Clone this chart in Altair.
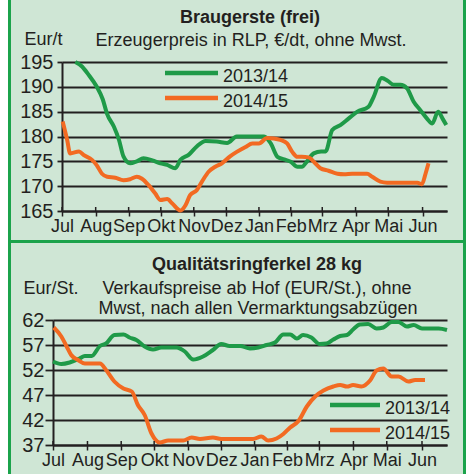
import json
import altair as alt
import pandas as pd

# ---------------- data ----------------
months = ["Jul", "Aug", "Sep", "Okt", "Nov", "Dez", "Jan", "Feb", "Mrz", "Apr", "Mai", "Jun"]
month_ticks = [0, 4.55, 9.0, 13.35, 17.8, 22.2, 26.6, 30.9, 35.15, 39.65, 44.05, 48.7]
series_names = ["2013/14", "2014/15"]
series_colors = ["#1f9a48", "#f26a22"]

# Braugerste (frei), Eur/t
barley_1314_week = [1.8, 2.7, 3.6, 4.7, 5.5, 6.1, 7.0, 7.7, 8.3, 9.2, 10.1, 11.0, 12.2, 13.3, 14.2,
                    15.3, 16.0, 17.1, 18.2, 19.4, 20.9, 22.3, 23.6, 27.3, 28.2, 29.1, 30.0, 30.9, 31.8,
                    32.4, 33.1, 34.0, 35.0, 35.6, 36.5, 37.6, 38.7, 39.9, 41.4, 42.1, 43.2, 44.0, 44.8,
                    45.7, 46.6, 47.5, 48.4, 49.3, 50.0, 50.8, 51.4, 51.9]
barley_1314_price = [195.0, 194.1, 192.4, 190.0, 187.5, 184.5, 182.0, 179.3, 176.0, 174.6, 175.0, 175.6,
                     175.2, 174.6, 174.3, 173.6, 175.3, 176.3, 178.0, 179.1, 179.0, 178.7, 180.0, 180.0,
                     178.6, 175.9, 175.4, 174.9, 173.9, 173.9, 175.0, 176.6, 177.0, 177.0, 181.3, 182.3,
                     183.6, 185.0, 186.0, 188.0, 191.8, 191.2, 190.4, 190.4, 189.7, 187.0, 185.3, 183.6,
                     182.6, 185.0, 183.6, 182.3]
barley_1415_week = [0.1, 0.7, 1.1, 2.3, 2.9, 4.05, 4.7, 5.4, 6.1, 7.2, 8.3, 9.2, 10.1, 10.8, 11.7, 12.6,
                    13.3, 14.2, 14.9, 16.0, 16.7, 17.3, 18.2, 18.9, 19.8, 20.7, 21.6, 22.7, 23.6, 24.8,
                    25.7, 26.6, 27.7, 28.6, 29.5, 30.4, 31.1, 31.8, 32.4, 33.3, 34.2, 34.9, 36.0, 37.2,
                    38.1, 39.2, 41.2, 41.9, 43.0, 43.9, 48.0, 48.6, 49.1, 49.5]
barley_1415_price = [183.0, 179.3, 176.6, 177.0, 176.3, 175.3, 174.2, 172.5, 171.9, 171.7, 171.2, 171.4,
                     171.9, 171.5, 170.2, 168.5, 167.2, 167.4, 166.5, 165.1, 166.2, 168.2, 169.2, 170.9,
                     172.9, 173.9, 174.6, 176.0, 176.9, 177.9, 178.6, 178.6, 179.7, 179.6, 179.3, 178.6,
                     176.9, 175.9, 175.9, 175.8, 174.6, 173.6, 173.1, 172.5, 172.4, 172.5, 172.5, 171.9,
                     170.9, 170.7, 170.7, 170.4, 172.5, 174.6]

# Qualitätsringferkel 28 kg, Eur/St.
piglet_1314_week = [0, 1.1, 2.2, 3.5, 4.2, 5.1, 6.2, 7.0, 8.1, 9.3, 10.1, 11.0, 12.1, 13.2, 14.3, 16.3,
                    17.4, 18.5, 19.8, 21.1, 22.2, 23.3, 24.7, 26.0, 27.1, 28.2, 29.3, 30.4, 31.3, 32.2,
                    33.0, 34.1, 35.2, 36.1, 37.0, 37.9, 38.8, 39.6, 40.5, 41.6, 42.7, 43.6, 44.7, 45.6,
                    46.7, 47.6, 48.7, 49.8, 50.9, 52.0]
piglet_1314_price = [53.7, 53.2, 53.5, 54.3, 54.8, 54.8, 56.8, 57.3, 59.0, 59.1, 58.5, 58.0, 56.7, 56.1,
                     56.5, 56.5, 55.7, 54.1, 54.7, 56.0, 57.2, 56.8, 56.8, 56.3, 56.5, 57.0, 57.5, 59.1,
                     59.1, 58.3, 59.0, 58.5, 57.2, 57.3, 58.1, 58.8, 59.0, 60.1, 61.1, 61.2, 60.3, 60.5,
                     61.6, 61.6, 60.7, 61.0, 60.3, 60.3, 60.3, 60.0]
piglet_1415_week = [0.1, 1.1, 1.8, 2.4, 3.3, 4.2, 5.3, 6.2, 7.0, 8.1, 9.3, 10.4, 11.2, 12.1, 13.0, 14.1,
                    15.2, 17.2, 18.3, 19.4, 21.1, 22.2, 26.4, 27.5, 28.4, 29.5, 30.4, 31.3, 32.4, 33.5,
                    34.6, 35.7, 37.0, 37.9, 38.8, 39.6, 40.7, 41.9, 42.7, 43.6, 44.7, 45.6, 46.9, 47.8,
                    49.1]
piglet_1415_price = [60.5, 58.7, 56.7, 55.0, 54.0, 53.3, 53.3, 53.3, 52.0, 49.7, 48.3, 47.7, 45.0, 43.0,
                     39.3, 37.5, 37.9, 37.9, 38.5, 38.2, 38.5, 38.2, 38.2, 38.7, 37.9, 38.3, 39.2, 40.5,
                     41.8, 44.7, 46.7, 47.9, 48.7, 49.0, 48.7, 49.0, 48.7, 50.0, 51.9, 52.3, 50.7, 50.7,
                     49.7, 50.0, 50.0]

barley_ticks = [165, 170, 175, 180, 185, 190, 195]
piglet_ticks = [37, 42, 47, 52, 57, 62]

# ---------------- style ----------------
BG = "#cfe6d5"
FRAME = "#1ba34b"
INK = "#231f20"
FONT = "Liberation Sans"
PW = 394          # plot width of both panels (they share the same left origin)


def make_df(w1, v1, w2, v2):
    return pd.concat([
        pd.DataFrame({"week": w1, "price": v1, "series": series_names[0]}),
        pd.DataFrame({"week": w2, "price": v2, "series": series_names[1]}),
    ], ignore_index=True)


barley_df = make_df(barley_1314_week, barley_1314_price, barley_1415_week, barley_1415_price)
piglet_df = make_df(piglet_1314_week, piglet_1314_price, piglet_1415_week, piglet_1415_price)
one = pd.DataFrame({"k": [0]})
legend_df = pd.DataFrame({"series": series_names})
tick_df = pd.DataFrame({"week": month_ticks})

label_expr = f"{json.dumps(months)}[indexof({json.dumps(month_ticks)}, datum.value)]"

color = alt.Color("series:N", scale=alt.Scale(domain=series_names, range=series_colors), legend=None)


def x_enc(x_start):
    return alt.X("week:Q", scale=alt.Scale(domain=[0, 52], nice=False, zero=False, range=[x_start, PW]),
                 axis=alt.Axis(values=month_ticks, labelExpr=label_expr, title=None, grid=False,
                               domainColor=INK, domainWidth=2, tickColor=INK, tickWidth=1.5,
                               tickSize=5, labelFontSize=18, labelFont=FONT, labelColor=INK,
                               labelPadding=1, labelFlush=False, labelOverlap=False))


def y_enc(dom, ticks, title, tx, ty, offset, tick_size):
    return alt.Y("price:Q", scale=alt.Scale(domain=dom, nice=False, zero=False),
                 axis=alt.Axis(values=ticks, title=title, titleAngle=0, titleX=tx, titleY=ty,
                               titleAlign="left", titleBaseline="alphabetic", titleFontSize=18,
                               titleFontWeight="normal", titleFont=FONT, titleColor=INK,
                               grid=True, gridColor=INK, gridWidth=1.8, domainColor=INK,
                               domainWidth=2, tickColor=INK, tickWidth=1.8, tickSize=tick_size,
                               labelFontSize=20, labelFont=FONT, labelColor=INK,
                               labelPadding=9 - tick_size, offset=offset))


def up_ticks(h, x_start):
    # the month ticks cross the x axis: short upward part
    return alt.Chart(tick_df).mark_rule(color=INK, strokeWidth=1.5).encode(
        x=x_enc(x_start), y=alt.value(h - 4), y2=alt.value(h))


def box(x, x2, y, y2, fill):
    return alt.Chart(one).mark_rect(color=fill).encode(
        x=alt.value(x), x2=alt.value(x2), y=alt.value(y), y2=alt.value(y2))


def label(text, x, y, bold=False):
    return alt.Chart(one).mark_text(align="center", baseline="alphabetic", fontSize=18, font=FONT,
                                    fontWeight="bold" if bold else "normal", color=INK).encode(
        x=alt.value(x), y=alt.value(y), text=alt.value(text))


def legend_layers(x0, x1, y0, dy):
    out = []
    for i, name in enumerate(series_names):
        base = alt.Chart(legend_df).transform_filter(alt.datum.series == name)
        out.append(base.mark_rule(strokeWidth=4.5).encode(
            x=alt.value(x0), x2=alt.value(x1), y=alt.value(y0 + i * dy), color=color))
        out.append(base.mark_text(align="left", baseline="alphabetic", fontSize=18, font=FONT,
                                  color=INK).encode(
            x=alt.value(x1 + 5), y=alt.value(y0 + i * dy + 8.5), text="series:N"))
    return out


def frame(top_y, bottom_y, divider=False):
    parts = [
        box(-53, -45, top_y, bottom_y, "white"),
        box(-45, -42, top_y, bottom_y, FRAME),
        box(410, 413, top_y, bottom_y, FRAME),
        box(413, 414, top_y, bottom_y, "white"),
    ]
    if divider:
        parts.append(box(-45, 413, top_y, top_y + 3, FRAME))
    return parts


# ---------------- top panel: plot origin (53, 62), axis at x=62 ----------------
top_lines = alt.Chart(barley_df).mark_line(strokeWidth=4, interpolate="monotone").encode(
    x=x_enc(9), y=y_enc([165, 195], barley_ticks, "Eur/t", -38, -18, -9, 5), color=color)

top = alt.layer(
    *frame(-62, 178),
    top_lines,
    up_ticks(149, 9),
    *legend_layers(112, 165, 11, 25),
    label("Braugerste (frei)", 197, -39, bold=True),
    label("Erzeugerpreis in RLP, €/dt, ohne Mwst.", 198, -16),
).properties(width=PW, height=149)

# ---------------- bottom panel: plot origin (53, 320) ----------------
bot_lines = alt.Chart(piglet_df).mark_line(strokeWidth=4, interpolate="monotone").encode(
    x=x_enc(0), y=y_enc([37, 62], piglet_ticks, "Eur/St.", -30, -27, 0, 8), color=color)

bottom = alt.layer(
    *frame(-80, 154, divider=True),
    bot_lines,
    up_ticks(125, 0),
    *legend_layers(277, 327, 85, 25),
    label("Qualitätsringferkel 28 kg", 204, -50, bold=True),
    label("Verkaufspreise ab Hof (EUR/St.), ohne", 204, -26),
    label("Mwst, nach allen Vermarktungsabzügen", 205, -6),
).properties(width=PW, height=125)

chart = alt.concat(top, bottom, columns=1, spacing=0, align="none", bounds="full", center=False).properties(
    background=BG, padding={"left": 0, "top": 0, "right": 0, "bottom": 0}
).configure_view(stroke=None)

chart.save("out.html", embed_options={"renderer": "svg", "actions": False})
